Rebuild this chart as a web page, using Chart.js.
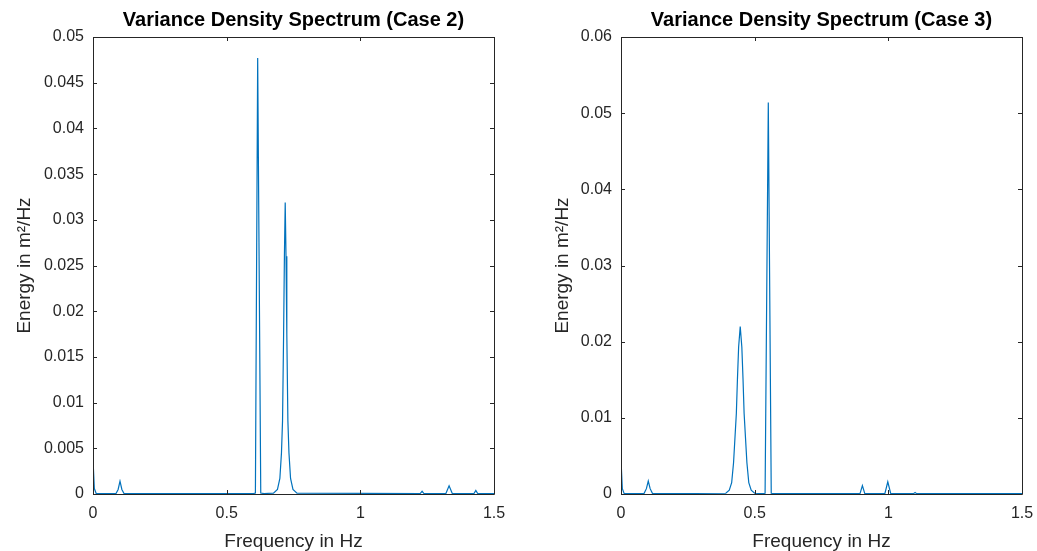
<!DOCTYPE html>
<html lang="en">
<head>
  <meta charset="UTF-8">
  <title>Variance Density Spectrum</title>
  <script src="https://cdn.jsdelivr.net/npm/chart.js"></script>
  <style>
    body { margin: 0; padding: 0; background: #fff; font-family: "Liberation Sans", Arial, sans-serif; }
    .wrap { position: relative; width: 1037px; height: 551px; }
    .box { position: absolute; top: 0; height: 551px; }
    #box2 { left: 0; width: 518px; }
    #box3 { left: 518px; width: 519px; }
  </style>
</head>
<body>
  <div class="wrap">
    <div class="box" id="box2"><canvas id="case2"></canvas></div>
    <div class="box" id="box3"><canvas id="case3"></canvas></div>
  </div>

  <script>
    // Case 2 spectrum (Hz, m^2/Hz)
    const freq2 = [0, 0.005, 0.012, 0.086, 0.094, 0.101, 0.108, 0.116, 0.6, 0.6075, 0.616, 0.6275, 0.64,
                   0.675, 0.69, 0.699, 0.705, 0.709, 0.713, 0.716, 0.719, 0.722, 0.725, 0.729, 0.733, 0.739, 0.748, 0.763,
                   1.224, 1.231, 1.238, 1.32, 1.332, 1.344, 1.425, 1.432, 1.439, 1.5];
    const energy2 = [0.0038, 0.0006, 0.00005, 0.00005, 0.0005, 0.0014, 0.0005, 0.00005, 0.00005, 0.0001, 0.0477, 0.0001, 0.00005,
                     0.0001, 0.0005, 0.0017, 0.0045, 0.008, 0.0175, 0.026, 0.0319, 0.026, 0.0175, 0.008, 0.0045, 0.0017, 0.0005, 0.0001,
                     0.00005, 0.0003, 0.00005, 0.00005, 0.0009, 0.00005, 0.00005, 0.0004, 0.00005, 0.00005];

    // Case 3 spectrum
    const freq3 = [0, 0.005, 0.012, 0.086, 0.095, 0.102, 0.109, 0.118,
                   0.392, 0.405, 0.414, 0.421, 0.4315, 0.4355, 0.44, 0.446, 0.452, 0.4565, 0.4605, 0.471, 0.478, 0.487, 0.5,
                   0.53, 0.539, 0.551, 0.562, 0.57,
                   0.894, 0.903, 0.912, 0.987, 0.998, 1.009, 1.094, 1.1, 1.106, 1.5];
    const energy3 = [0.0045, 0.0007, 0.00005, 0.00005, 0.0007, 0.0017, 0.0007, 0.00005,
                     0.0001, 0.0005, 0.0015, 0.0041, 0.0106, 0.015, 0.0193, 0.022, 0.0193, 0.015, 0.0106, 0.0041, 0.0015, 0.0005, 0.0001,
                     0.00005, 0.0001, 0.0514, 0.0001, 0.00005,
                     0.00005, 0.0011, 0.00005, 0.00005, 0.0016, 0.00005, 0.00005, 0.0002, 0.00005, 0.00005];

    const xTicks = [0, 0.5, 1, 1.5];
    const yTicks2 = [0, 0.005, 0.01, 0.015, 0.02, 0.025, 0.03, 0.035, 0.04, 0.045, 0.05];
    const yTicks3 = [0, 0.01, 0.02, 0.03, 0.04, 0.05, 0.06];

    const ink = '#262626';
    const font = { family: '"Liberation Sans", Arial, sans-serif' };

    // matlab style: box round the axes and ticks pointing inwards
    const boxTicks = {
      id: 'boxTicks',
      afterLayout(chart) {
        // centre the title over the plot area, not over the whole canvas
        const a = chart.chartArea;
        if (chart.titleBlock) {
          chart.titleBlock.left = a.left;
          chart.titleBlock.right = a.right;
        }
      },
      afterDraw(chart) {
        const a = chart.chartArea, c = chart.ctx;
        const xs = chart.scales.x, ys = chart.scales.y;
        c.save();
        c.strokeStyle = ink;
        c.lineWidth = 1;
        c.beginPath();
        c.rect(Math.round(a.left) + 0.5, Math.round(a.top) + 0.5, Math.round(a.right - a.left), Math.round(a.bottom - a.top));
        xs.ticks.forEach(t => {
          const px = Math.round(xs.getPixelForValue(t.value)) + 0.5;
          c.moveTo(px, a.bottom); c.lineTo(px, a.bottom - 4);
          c.moveTo(px, a.top); c.lineTo(px, a.top + 4);
        });
        ys.ticks.forEach(t => {
          const py = Math.round(ys.getPixelForValue(t.value)) + 0.5;
          c.moveTo(a.left, py); c.lineTo(a.left + 4, py);
          c.moveTo(a.right, py); c.lineTo(a.right - 4, py);
        });
        c.stroke();
        c.restore();
      }
    };

    function makeChart(id, title, xs, ys, yMax, yTicks, opts) {
      const pts = xs.map((f, i) => ({ x: f, y: ys[i] }));
      return new Chart(document.getElementById(id), {
        type: 'line',
        data: {
          datasets: [{
            data: pts,
            borderColor: '#0072BD',
            borderWidth: 1.2,
            pointRadius: 0,
            tension: 0,
            fill: false
          }]
        },
        options: {
          responsive: true,
          maintainAspectRatio: false,
          animation: false,
          layout: { padding: { left: opts.padLeft, right: opts.padRight, top: 0, bottom: 0 } },
          plugins: {
            legend: { display: false },
            tooltip: { enabled: false },
            title: {
              display: true,
              text: title,
              color: '#000',
              font: { ...font, size: 20, weight: 'bold' },
              padding: { top: 8, bottom: 5 }
            }
          },
          scales: {
            x: {
              type: 'linear',
              min: 0, max: 1.5,
              afterBuildTicks: s => { s.ticks = xTicks.map(v => ({ value: v })); },
              afterFit: s => { s.height = 57; s.paddingLeft = 0; s.paddingRight = 0; },
              grid: { display: false, drawTicks: false },
              border: { display: false },
              ticks: { color: ink, font: { ...font, size: 16 }, padding: 10, maxRotation: 0,
                       callback: v => String(v) },
              title: { display: true, text: 'Frequency in Hz', color: ink, font: { ...font, size: 19 }, padding: { top: 0, bottom: -2 } }
            },
            y: {
              type: 'linear',
              min: 0, max: yMax,
              afterBuildTicks: s => { s.ticks = yTicks.map(v => ({ value: v })); },
              afterFit: s => { s.width = opts.yWidth; s.paddingTop = 0; s.paddingBottom = 0; },
              grid: { display: false, drawTicks: false },
              border: { display: false },
              ticks: { color: ink, font: { ...font, size: 16 }, padding: 9,
                       callback: v => String(v) },
              title: { display: true, text: 'Energy in m²/Hz', color: ink, font: { ...font, size: 19 }, padding: { top: 0, bottom: 0 } }
            }
          }
        },
        plugins: [boxTicks]
      });
    }

    makeChart('case2', 'Variance Density Spectrum (Case 2)', freq2, energy2, 0.05, yTicks2,
      { padLeft: 13, padRight: 24, yWidth: 80 });
    makeChart('case3', 'Variance Density Spectrum (Case 3)', freq3, energy3, 0.06, yTicks3,
      { padLeft: 33, padRight: 15, yWidth: 70 });
  </script>
</body>
</html>
